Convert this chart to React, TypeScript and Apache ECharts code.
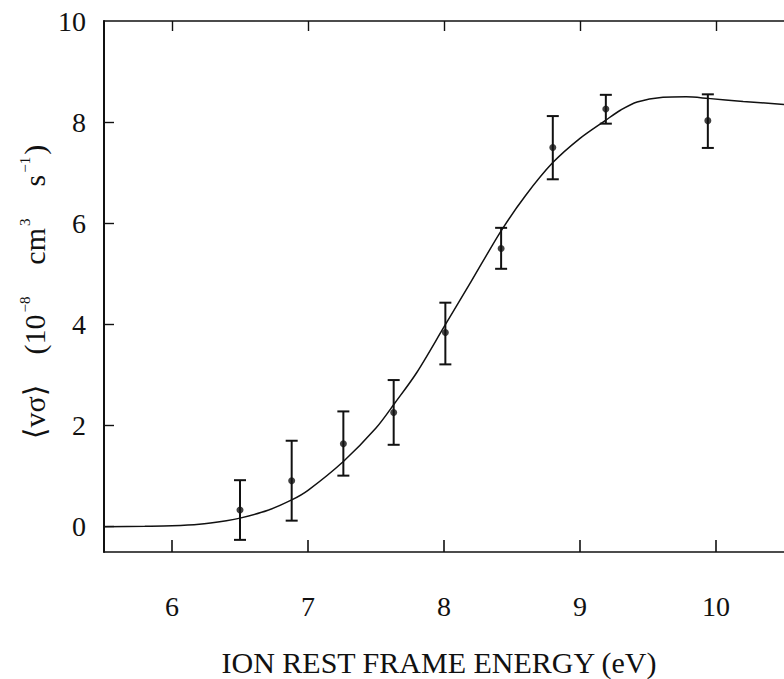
import React, { useEffect, useRef } from "react";
import * as echarts from "echarts";

// Fitted curve (ion rest frame energy eV, rate 1e-8 cm^3 s^-1)
const curveEnergy = [5.5, 5.8, 6.0, 6.2, 6.4, 6.5, 6.7, 6.88, 7.0, 7.26, 7.5, 7.64, 7.8, 8.0, 8.2, 8.42, 8.6, 8.8, 9.0, 9.19, 9.3, 9.42, 9.61, 9.78, 9.94, 10.2, 10.5];
const curveRate = [0.0, 0.01, 0.02, 0.05, 0.12, 0.17, 0.32, 0.53, 0.72, 1.29, 1.95, 2.45, 3.05, 3.95, 4.85, 5.85, 6.55, 7.2, 7.68, 8.04, 8.24, 8.4, 8.49, 8.5, 8.47, 8.41, 8.35];

// Measured points with error bars
const dataEnergy = [6.5, 6.88, 7.26, 7.63, 8.01, 8.42, 8.8, 9.19, 9.94];
const dataRate = [0.33, 0.91, 1.64, 2.26, 3.84, 5.5, 7.5, 8.26, 8.03];
const dataLow = [-0.26, 0.12, 1.01, 1.62, 3.21, 5.1, 6.87, 7.97, 7.49];
const dataHigh = [0.92, 1.7, 2.28, 2.9, 4.43, 5.91, 8.12, 8.54, 8.55];

const xTickValues = [6, 7, 8, 9, 10];
const yTickValues = [0, 2, 4, 6, 8];
const yLabelValues = [0, 2, 4, 6, 8, 10];

const xTitle = "ION REST FRAME ENERGY (eV)";

const INK = "#111";
const FONT = "'Liberation Serif', 'DejaVu Serif', serif";

export default function App() {
  const ref = useRef<HTMLDivElement>(null);
  useEffect(() => {
    if (!ref.current) return;
    const chart = echarts.init(ref.current, null, { renderer: "svg" });
    const axisCommon = {
      type: "value" as const,
      min: 5.5,
      max: 10.5,
      splitLine: { show: false },
      axisLine: { show: true, onZero: false, lineStyle: { color: INK, width: 1.6 } },
    };
    chart.setOption({
      animation: false,
      backgroundColor: "#fff",
      grid: { left: 104, right: 0, top: 21, bottom: 127, containLabel: false },
      xAxis: [
        {
          ...axisCommon,
          position: "bottom",
          axisTick: { show: true, inside: true, length: 12, customValues: xTickValues, lineStyle: { color: INK, width: 1.6 } },
          axisLabel: { show: true, customValues: xTickValues, margin: 40, fontSize: 28, fontFamily: FONT, color: INK },
        },
        {
          ...axisCommon,
          position: "top",
          axisTick: { show: true, inside: true, length: 10, customValues: xTickValues, lineStyle: { color: INK, width: 1.4 } },
          axisLabel: { show: false },
        },
      ],
      yAxis: [
        {
          type: "value",
          min: -0.5,
          max: 10,
          position: "left",
          splitLine: { show: false },
          axisLine: { show: true, onZero: false, lineStyle: { color: INK, width: 2 } },
          axisTick: { show: true, inside: true, length: 10, customValues: yTickValues, lineStyle: { color: INK, width: 1.4 } },
          axisLabel: { show: true, customValues: yLabelValues, margin: 18, fontSize: 28, fontFamily: FONT, color: INK },
        },
      ],
      series: [
        {
          type: "line",
          xAxisIndex: 0,
          yAxisIndex: 0,
          data: curveEnergy.map((x, i) => [x, curveRate[i]]),
          smooth: 0.3,
          showSymbol: false,
          lineStyle: { color: INK, width: 1.5 },
          z: 2,
        },
        {
          type: "custom",
          xAxisIndex: 0,
          yAxisIndex: 0,
          data: dataEnergy.map((x, i) => [x, dataLow[i], dataHigh[i]]),
          encode: { x: 0, y: [1, 2] },
          renderItem: (params: any, api: any) => {
            const x = api.value(0);
            const lo = api.coord([x, api.value(1)]);
            const hi = api.coord([x, api.value(2)]);
            const hw = 6;
            const st = { stroke: INK, lineWidth: 2 };
            return {
              type: "group",
              children: [
                { type: "line", shape: { x1: lo[0], y1: lo[1], x2: hi[0], y2: hi[1] }, style: st },
                { type: "line", shape: { x1: lo[0] - hw, y1: lo[1], x2: lo[0] + hw, y2: lo[1] }, style: st },
                { type: "line", shape: { x1: hi[0] - hw, y1: hi[1], x2: hi[0] + hw, y2: hi[1] }, style: st },
              ],
            };
          },
          z: 3,
        },
        {
          type: "scatter",
          xAxisIndex: 0,
          yAxisIndex: 0,
          data: dataEnergy.map((x, i) => [x, dataRate[i]]),
          symbol: "circle",
          symbolSize: 7,
          itemStyle: { color: INK },
          z: 4,
        },
      ],
      graphic: [
        {
          type: "text",
          x: 439,
          y: 662,
          style: {
            text: xTitle,
            fontSize: 30,
            fontFamily: FONT,
            fill: INK,
            align: "center",
            verticalAlign: "middle",
          },
        },
        {
          type: "text",
          x: 34,
          y: 292,
          rotation: Math.PI / 2,
          style: {
            text: "{m|⟨vσ⟩}{g| }{m|(10}{s|−8}{g| }{m|cm}{s|3}{g| }{m|s}{s|−1}{m|)}",
            align: "center",
            verticalAlign: "middle",
            rich: {
              m: { fontSize: 30, fontFamily: FONT, fill: INK, lineHeight: 34 },
              g: { fontSize: 30, fontFamily: FONT, fill: INK, lineHeight: 34, width: 30 },
              s: { fontSize: 15, fontFamily: FONT, fill: INK, lineHeight: 27, verticalAlign: "top", padding: [0, 2, 0, 2] },
            },
          },
        },
      ],
    });
    return () => chart.dispose();
  }, []);
  return (
    <div style={{ position: "fixed", left: 0, top: 0, width: 784, height: 679, overflow: "hidden", background: "#fff" }}>
      <div ref={ref} style={{ width: 784, height: 679 }} />
    </div>
  );
}
